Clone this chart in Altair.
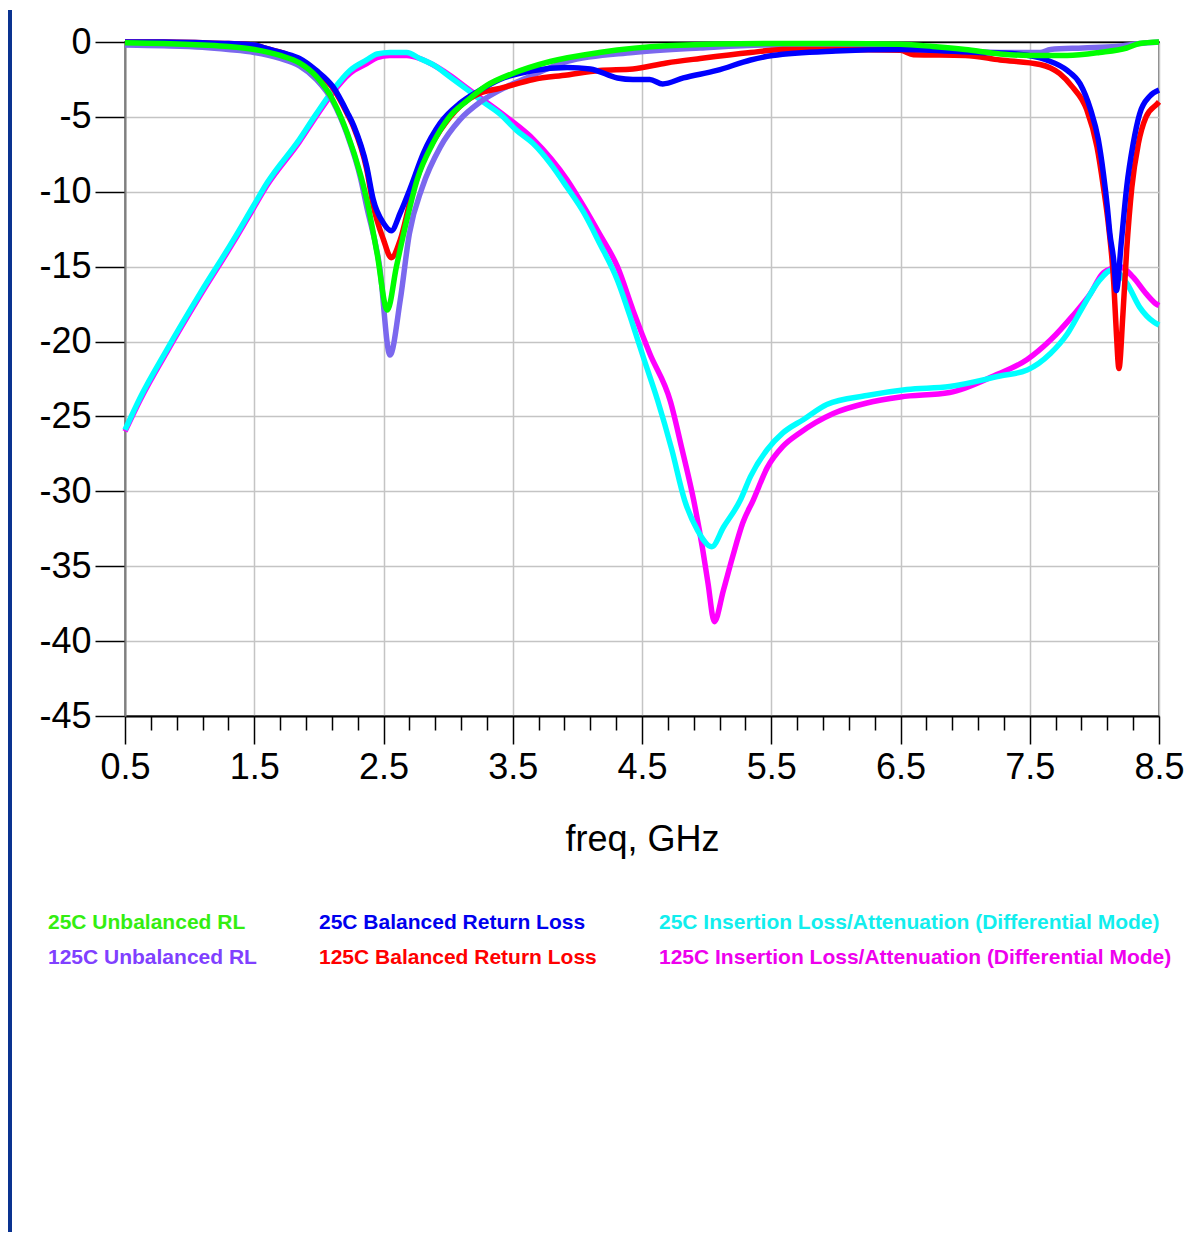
import altair as alt
import pandas as pd

FONT = "Liberation Sans"

SERIES = [
    "25C Unbalanced RL",
    "25C Balanced Return Loss",
    "25C Insertion Loss/Attenuation (Differential Mode)",
    "125C Unbalanced RL",
    "125C Balanced Return Loss",
    "125C Insertion Loss/Attenuation (Differential Mode)",
]
LINE_COLORS = ["#00ff00", "#0000ff", "#00ffff", "#7b68ee", "#ff0000", "#ff00ff"]
LABEL_COLORS = ["#33ee11", "#0000ee", "#11eeee", "#8040ff", "#ff0000", "#ee00ee"]
DRAW_ORDER = [5, 2, 3, 4, 1, 0]

X_MAJOR = [0.5, 1.5, 2.5, 3.5, 4.5, 5.5, 6.5, 7.5, 8.5]
Y_TICKS = [0, -5, -10, -15, -20, -25, -30, -35, -40, -45]

# 25C Unbalanced RL
f_g = [0.5, 0.8, 1.1, 1.3, 1.5, 1.7, 1.85, 1.98, 2.11, 2.22, 2.32, 2.37, 2.45, 2.53, 2.60, 2.68, 2.76, 2.88,
       3.01, 3.15, 3.30, 3.50, 3.79, 4.17, 4.69, 5.47, 6.0, 6.5, 6.75, 7.0, 7.27, 7.5, 7.79, 8.04, 8.25, 8.35, 8.5]
d_g = [-0.05, -0.1, -0.2, -0.3, -0.5, -0.9, -1.4, -2.3, -3.9, -6.1, -8.8, -10.5, -14.1, -17.9, -15.0, -11.9, -9.2, -6.8,
       -5.0, -3.9, -2.9, -2.1, -1.3, -0.7, -0.25, -0.1, -0.1, -0.15, -0.3, -0.5, -0.8, -0.9, -0.9, -0.7, -0.4, -0.1, 0.0]

# 125C Unbalanced RL
f_p = [0.5, 0.8, 1.1, 1.3, 1.5, 1.7, 1.85, 1.98, 2.11, 2.22, 2.32, 2.37, 2.47, 2.55, 2.63, 2.70, 2.80, 2.94,
       3.09, 3.25, 3.45, 3.66, 3.92, 4.43, 4.95, 5.5, 6.0, 6.5, 6.75, 7.0, 7.27, 7.58, 7.66, 7.91, 8.17, 8.35, 8.5]
d_p = [-0.2, -0.25, -0.35, -0.5, -0.7, -1.1, -1.6, -2.5, -4.0, -6.2, -9.0, -11.0, -15.0, -20.9, -17.2, -12.8, -9.7, -7.0,
       -5.2, -4.0, -3.0, -2.2, -1.3, -0.7, -0.4, -0.2, -0.2, -0.3, -0.5, -0.6, -0.7, -0.7, -0.5, -0.4, -0.3, -0.1, 0.0]

# 25C Balanced Return Loss
f_b = [0.5, 0.8, 1.1, 1.3, 1.5, 1.6, 1.73, 1.85, 1.98, 2.11, 2.22, 2.27, 2.37, 2.42, 2.50, 2.56, 2.63, 2.71, 2.81,
       2.94, 3.09, 3.25, 3.40, 3.66, 3.92, 4.10, 4.31, 4.43, 4.56, 4.66, 4.82, 5.08, 5.34, 5.51, 6.0, 6.5, 7.11,
       7.4, 7.63, 7.79, 7.89, 7.97, 8.03, 8.07, 8.10, 8.12, 8.15, 8.17, 8.21, 8.25, 8.30, 8.35, 8.43, 8.5]
d_b = [0.0, 0.0, -0.05, -0.1, -0.2, -0.45, -0.75, -1.1, -1.9, -3.0, -4.7, -5.6, -8.3, -10.5, -12.1, -12.6, -11.4, -9.7,
       -7.4, -5.4, -4.1, -3.2, -2.5, -1.9, -1.7, -1.8, -2.4, -2.5, -2.5, -2.8, -2.4, -1.9, -1.2, -0.9, -0.6, -0.5,
       -0.7, -0.8, -1.2, -1.9, -2.8, -4.5, -6.5, -8.8, -11.0, -12.8, -14.6, -16.6, -13.2, -9.7, -6.8, -4.8, -3.6, -3.2]

# 125C Balanced Return Loss
f_r = [0.5, 0.8, 1.1, 1.3, 1.5, 1.6, 1.73, 1.85, 1.98, 2.11, 2.22, 2.27, 2.37, 2.42, 2.50, 2.56, 2.63, 2.71, 2.81,
       2.94, 3.09, 3.25, 3.40, 3.66, 3.92, 4.17, 4.43, 4.69, 4.95, 5.34, 5.59, 6.0, 6.5, 6.6, 7.0, 7.27, 7.58,
       7.73, 7.83, 7.94, 8.02, 8.07, 8.11, 8.15, 8.17, 8.19, 8.22, 8.25, 8.29, 8.34, 8.40, 8.49, 8.5]
d_r = [0.0, 0.0, -0.05, -0.1, -0.2, -0.45, -0.75, -1.2, -2.0, -3.1, -4.8, -5.7, -8.5, -10.9, -13.2, -14.4, -13.2,
       -10.5, -7.9, -5.9, -4.3, -3.4, -3.1, -2.5, -2.2, -1.9, -1.8, -1.4, -1.1, -0.7, -0.5, -0.5, -0.55, -0.85,
       -0.9, -1.2, -1.5, -2.1, -3.0, -4.5, -7.0, -9.7, -12.3, -16.1, -19.4, -21.8, -18.3, -13.9, -9.7, -6.8, -5.0,
       -4.1, -4.0]

# 25C Insertion Loss
f_c = [0.5, 0.62, 0.82, 1.08, 1.34, 1.49, 1.60, 1.85, 1.98, 2.11, 2.24, 2.37, 2.45, 2.55, 2.68, 2.78, 2.88, 3.01,
       3.15, 3.27, 3.40, 3.53, 3.66, 3.79, 3.92, 4.05, 4.17, 4.31, 4.43, 4.52, 4.62, 4.73, 4.83, 4.93, 5.04, 5.13,
       5.26, 5.34, 5.47, 5.59, 5.75, 5.93, 6.24, 6.55, 6.88, 7.27, 7.48, 7.66, 7.79, 7.91, 8.04, 8.14, 8.25, 8.35,
       8.46, 8.5]
d_c = [-25.9, -23.7, -20.6, -16.8, -13.2, -11.0, -9.4, -6.5, -4.8, -3.2, -1.9, -1.2, -0.8, -0.7, -0.7, -1.1, -1.5,
       -2.3, -3.2, -4.0, -4.8, -5.9, -6.8, -8.1, -9.7, -11.4, -13.4, -15.9, -18.9, -21.3, -23.9, -27.2, -30.6,
       -32.6, -33.7, -32.4, -30.6, -29.0, -27.2, -26.1, -25.2, -24.2, -23.6, -23.2, -23.0, -22.3, -21.9, -20.8,
       -19.5, -17.7, -15.9, -15.2, -16.1, -17.7, -18.7, -18.9]

# 125C Insertion Loss
f_m = [0.5, 0.62, 0.82, 1.08, 1.34, 1.49, 1.60, 1.85, 1.98, 2.11, 2.24, 2.37, 2.45, 2.55, 2.68, 2.78, 2.88, 3.01,
       3.15, 3.45, 3.66, 3.92, 4.05, 4.17, 4.31, 4.43, 4.56, 4.72, 4.81, 4.90, 4.97, 5.01, 5.06, 5.13, 5.20,
       5.28, 5.36, 5.47, 5.59, 5.72, 5.98, 6.24, 6.50, 6.88, 7.22, 7.48, 7.66, 7.83, 7.97, 8.07, 8.20, 8.30, 8.40,
       8.48, 8.5]
d_m = [-26.0, -23.85, -20.75, -16.95, -13.35, -11.15, -9.55, -6.65, -4.95, -3.35, -2.1, -1.45, -1.05, -0.9, -0.9,
       -1.1, -1.5, -2.2, -3.1, -5.0, -6.5, -9.2, -11.0, -12.8, -15.0, -17.9, -20.8, -24.0, -27.2, -30.6, -33.9,
       -36.1, -38.7, -36.6, -34.4, -32.1, -30.6, -28.4, -27.0, -26.1, -24.8, -24.1, -23.7, -23.4, -22.3, -21.2,
       -19.9, -18.3, -16.8, -15.4, -15.0, -15.7, -16.8, -17.5, -17.6]

CURVES = [(f_g, d_g), (f_b, d_b), (f_c, d_c), (f_p, d_p), (f_r, d_r), (f_m, d_m)]

rows = []
for name, (fs, ds) in zip(SERIES, CURVES):
    for f, d in zip(fs, ds):
        rows.append({"freq": f, "dB": d, "series": name})
df = pd.DataFrame(rows)

x_ticks = [round(0.5 + 0.2 * i, 1) for i in range(41)]
major_test = "abs((datum.value * 10) % 10 - 5) < 0.01"

label_color_expr = ""
for name, col in zip(SERIES, LABEL_COLORS):
    label_color_expr += f"datum.value == '{name}' ? '{col}' : "
label_color_expr += "'black'"

x_enc = alt.X(
    "freq:Q",
    scale=alt.Scale(domain=[0.5, 8.5], nice=False, zero=False),
    axis=alt.Axis(
        values=x_ticks,
        labelExpr=f"{major_test} ? format(datum.value, '.1f') : ''",
        labelOverlap=False,
        labelFlush=False,
        labelBound=False,
        labelFont=FONT,
        labelFontSize=36,
        labelColor="black",
        labelPadding=6,
        tickSize={"condition": {"test": major_test, "value": 28}, "value": 14},
        tickColor="black",
        tickWidth=1.5,
        domainColor="black",
        domainWidth=2,
        grid=True,
        gridColor="#c4c4c4",
        gridWidth=1.5,
        gridOpacity={"condition": {"test": major_test, "value": 1}, "value": 0},
        title="freq, GHz",
        titleFont=FONT,
        titleFontSize=36,
        titleFontWeight="normal",
        titleColor="black",
        titlePadding=37,
    ),
)
y_enc = alt.Y(
    "dB:Q",
    scale=alt.Scale(domain=[-45, 0], nice=False, zero=False),
    axis=alt.Axis(
        values=Y_TICKS,
        labelExpr="'' + datum.value",
        labelOverlap=False,
        labelFont=FONT,
        labelFontSize=36,
        labelColor="black",
        labelPadding=4,
        tickSize=30,
        tickColor="black",
        tickWidth=1.5,
        domainColor="#808080",
        domainWidth=2,
        grid=True,
        gridColor={"condition": {"test": "datum.value == 0", "value": "black"}, "value": "#c4c4c4"},
        gridWidth=1.5,
        title=None,
    ),
)
color_enc = alt.Color(
    "series:N",
    scale=alt.Scale(domain=SERIES, range=LINE_COLORS),
    legend=alt.Legend(
        title=None,
        orient="none",
        legendX=-98,
        legendY=870,
        direction="horizontal",
        columns=3,
        symbolSize=0,
        symbolOpacity=0,
        symbolStrokeWidth=0,
        labelOffset=0,
        labelFont=FONT,
        labelFontSize=21,
        labelFontWeight="bold",
        labelLimit=800,
        labelColor=alt.ExprRef(expr=label_color_expr),
        columnPadding=41,
        rowPadding=13,
    ),
)

base = alt.Chart(df).mark_line(strokeWidth=5.5, interpolate="monotone").encode(
    x=x_enc, y=y_enc, color=color_enc
)
layers = [base.transform_filter(alt.datum.series == SERIES[i]) for i in DRAW_ORDER]

frame = alt.Chart(pd.DataFrame({"a": [0]})).mark_rule(color="#0a3290", strokeWidth=4).encode(
    x=alt.value(-115), y=alt.value(-32), y2=alt.value(1190)
)

chart = alt.layer(frame, *layers).properties(
    width=1034,
    height=674,
    padding={"left": 0, "top": 0, "right": 0, "bottom": 5},
).configure_view(stroke="#808080", strokeWidth=2)

chart.save("out.html", embed_options={"renderer": "svg", "actions": False})
